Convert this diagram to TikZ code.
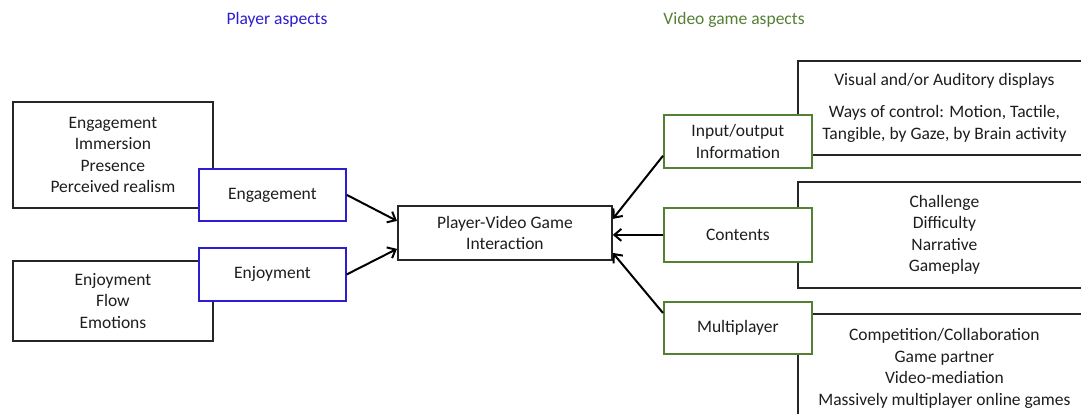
\documentclass[tikz,border=0pt]{standalone}
\usepackage{fontspec}
\setmainfont{Carlito}
\usetikzlibrary{arrows.meta,calc}
\definecolor{pblue}{RGB}{44,28,210}
\definecolor{vgreen}{RGB}{84,128,52}
\definecolor{txt}{RGB}{30,30,30}
\tikzset{
  box/.style={draw=black!85, line width=1.8pt, fill=white, rectangle, inner sep=0pt, anchor=north west, align=center, text=txt, font=\fontsize{17.5}{21.4}\selectfont},
  bluebox/.style={box, draw=pblue},
  greenbox/.style={box, draw=vgreen},
  title/.style={font=\fontsize{17.5}{21.4}\selectfont},
  arr/.style={line width=2pt, -{Straight Barb[length=7pt,width=12pt,line width=2pt]}}
}
\begin{document}
\begin{tikzpicture}[x=1pt,y=-1pt]
\useasboundingbox (0,0) rectangle (1081,414);
\clip (0,0) rectangle (1081,414);
% titles
\node[title, text=pblue] (tplayer) at (277,20) {Player aspects};
\node[title, text=vgreen] (tvideo) at (734,20) {Video game aspects};
% left detail boxes
\node[box, minimum width=200pt, minimum height=106pt] (ldet1) at (12,101) {Engagement\\Immersion\\Presence\\Perceived realism};
\node[box, minimum width=200pt, minimum height=80pt] (ldet2) at (12,260) {Enjoyment\\Flow\\Emotions};
% right detail boxes
\node[box, minimum width=293pt, minimum height=94pt] (rdet1) at (797,60) {Visual and/or Auditory displays\\[10.5pt]Ways of control: Motion, Tactile,\\Tangible, by Gaze, by Brain activity};
\node[box, minimum width=293pt, minimum height=106pt] (rdet2) at (797,181) {Challenge\\Difficulty\\Narrative\\Gameplay};
\node[box, minimum width=293pt, minimum height=109pt] (rdet3) at (797,313) {Competition/Collaboration\\Game partner\\Video-mediation\\Massively multiplayer online games};
% aspect boxes
\node[bluebox, minimum width=147pt, minimum height=52pt] (engage) at (198,168) {Engagement};
\node[bluebox, minimum width=147pt, minimum height=53pt] (enjoy) at (198,247) {Enjoyment};
\node[greenbox, minimum width=148pt, minimum height=53pt] (inout) at (663,114) {Input/output\\Information};
\node[greenbox, minimum width=148pt, minimum height=54pt] (contents) at (663,207) {Contents};
\node[greenbox, minimum width=148pt, minimum height=52pt] (multi) at (663,301) {Multiplayer};
% center
\node[box, minimum width=214pt, minimum height=54pt] (center) at (397,205) {Player-Video Game\\Interaction};
% arrows
\draw[arr] (engage.east) -- ([yshift=12pt]center.west);
\draw[arr] (enjoy.east) -- ([yshift=-16pt]center.west);
\draw[arr] ([yshift=13pt]inout.south west) -- ([yshift=14pt]center.east);
\draw[arr, line width=2.8pt] (contents.west) -- (contents.west -| center.east);
\draw[arr] ([yshift=-12pt]multi.north west) -- ([yshift=-20pt]center.east);
\end{tikzpicture}
\end{document}
